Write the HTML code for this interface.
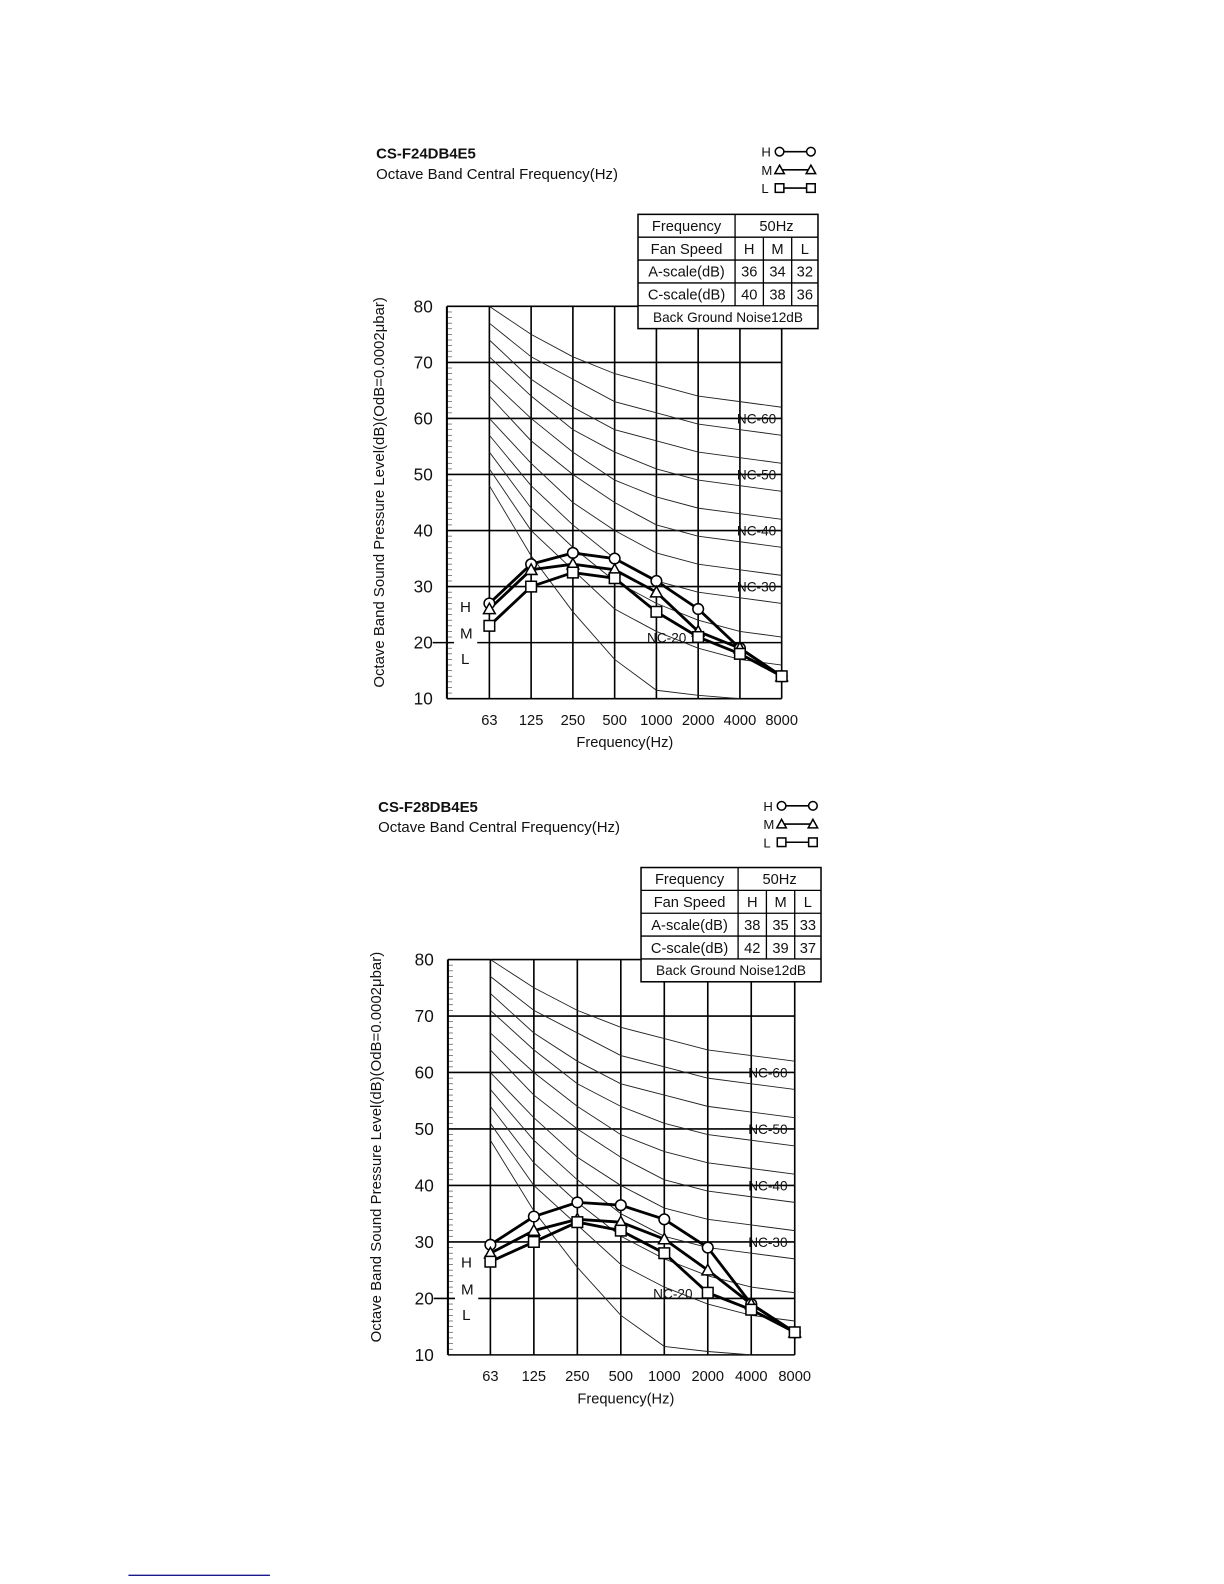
<!DOCTYPE html>
<html><head><meta charset="utf-8"><style>
html,body{margin:0;padding:0;background:#fff;overflow:hidden;width:1224px;height:1584px;}
svg{display:block;position:absolute;left:0;top:0;}
text{font-family:"Liberation Sans",Arial,sans-serif;fill:#111;}
</style></head><body>
<svg width="1224" height="1584" viewBox="0 0 1224 1584" xmlns="http://www.w3.org/2000/svg"><g id="s" transform="scale(1.0111)"></g></svg>
<script>
var S=document.getElementById('s');var h='';
var NC=[
[80,75,71,68,66,64,63,62],
[77,71,67,63,61,59,58,57],
[74,67,62,58,56,54,53,52],
[71,64,58,54,51,49,48,47],
[67,60,54,49,46,44,43,42],
[64,56,50,45,41,39,38,37],
[60,52,45,40,36,34,33,32],
[57,48,41,35,31,29,28,27],
[54,44,37,31,27,24,22,21],
[51,40,33,26,22,19,17,16]
];
var LOW=[48,35.5,25.5,17,11.5,10.6,10];
function chart(o){
 var X=function(i){return o.x0+i*o.dx;};
 var Y=function(v){return o.y80+(80-v)*(o.y10-o.y80)/70;};
 var L=o.left,R=X(7),T=o.y80,B=o.y10;
 h+='<text x="'+o.tx+'" y="'+o.ty+'" font-size="14.8" font-weight="bold">'+o.title+'</text>';
 h+='<text x="'+o.tx+'" y="'+(o.ty+20)+'" font-size="14.8">Octave Band Central Frequency(Hz)</text>';
 var lx=o.lgx,ly=o.lgy;
 var labs=['H','M','L'];
 for(var k=0;k<3;k++){var yy=ly+k*18;
  h+='<text x="'+lx+'" y="'+(yy+5)+'" font-size="13">'+labs[k]+'</text>';
  h+='<line x1="'+(lx+16)+'" y1="'+yy+'" x2="'+(lx+50)+'" y2="'+yy+'" stroke="#000" stroke-width="1.6"/>';
  h+=mark(k,lx+18,yy,0.85);h+=mark(k,lx+49,yy,0.85);}
 for(var v=10;v<=80;v++){h+='<line x1="'+L+'" x2="'+(L+5)+'" y1="'+Y(v)+'" y2="'+Y(v)+'" stroke="#555" stroke-width="0.7"/>';}
 for(var v=10;v<=80;v+=10){
  if(v==20){h+='<line x1="'+(L-14)+'" x2="'+(L+7)+'" y1="'+Y(v)+'" y2="'+Y(v)+'" stroke="#000" stroke-width="1.6"/>';
   h+='<line x1="'+(L+30)+'" x2="'+R+'" y1="'+Y(v)+'" y2="'+Y(v)+'" stroke="#000" stroke-width="1.6"/>';}
  else h+='<line x1="'+L+'" x2="'+R+'" y1="'+Y(v)+'" y2="'+Y(v)+'" stroke="#000" stroke-width="1.6"/>';
  h+='<text x="'+(L-14)+'" y="'+(Y(v)+6)+'" font-size="17" text-anchor="end">'+v+'</text>';}
 for(var i=0;i<8;i++){h+='<line x1="'+X(i)+'" x2="'+X(i)+'" y1="'+T+'" y2="'+B+'" stroke="#000" stroke-width="1.6"/>';}
 h+='<line x1="'+L+'" x2="'+L+'" y1="'+T+'" y2="'+B+'" stroke="#000" stroke-width="2"/>';
 var curves=NC.concat([LOW]);
 curves.forEach(function(c){var p=[];for(var i=0;i<c.length;i++)p.push(X(i)+','+Y(c[i]));
  h+='<polyline points="'+p.join(' ')+'" fill="none" stroke="#222" stroke-width="0.9"/>';});
 var nl=[[60,'NC-60'],[50,'NC-50'],[40,'NC-40'],[30,'NC-30']];
 nl.forEach(function(a){h+='<text x="'+(X(6)-3)+'" y="'+(Y(a[0])+5)+'" font-size="13.5" fill="#222">'+a[1]+'</text>';});
 h+='<text x="'+(X(3)+32)+'" y="'+(Y(20)+0)+'" font-size="13.5" fill="#222">NC-20</text>';
 h+='<text x="'+(L+13)+'" y="'+(Y(25.5))+'" font-size="15">H</text>';
 h+='<text x="'+(L+13)+'" y="'+(Y(20.7))+'" font-size="15">M</text>';
 h+='<text x="'+(L+14)+'" y="'+(Y(16.2))+'" font-size="15">L</text>';
 for(var k=0;k<3;k++){var d=o.data[k];var p=[];for(var i=0;i<8;i++)p.push(X(i)+','+Y(d[i]));
  h+='<polyline points="'+p.join(' ')+'" fill="none" stroke="#000" stroke-width="2.8"/>';}
 for(var k=0;k<3;k++){var d=o.data[k];for(var i=0;i<8;i++)h+=mark(k,X(i),Y(d[i]),1.05);}
 var fl=['63','125','250','500','1000','2000','4000','8000'];
 for(var i=0;i<8;i++)h+='<text x="'+X(i)+'" y="'+(B+26)+'" font-size="14.5" text-anchor="middle">'+fl[i]+'</text>';
 h+='<text x="'+o.fx+'" y="'+(B+48)+'" font-size="14.5" text-anchor="middle">Frequency(Hz)</text>';
 var cy=(T+B)/2-10;
 h+='<text transform="translate('+o.ylx+','+cy+') rotate(-90)" font-size="14.8" text-anchor="middle">Octave Band Sound Pressure Level(dB)(OdB=0.0002&#956;bar)</text>';
 var tx=o.tbx,ty=o.tby,rh=22.6,c1=tx+96,c2=c1+28,c3=c2+28,tr=tx+178;
 h+='<rect x="'+tx+'" y="'+ty+'" width="178" height="'+(rh*5)+'" fill="#fff" stroke="#000" stroke-width="1.5"/>';
 for(var r=1;r<5;r++)h+='<line x1="'+tx+'" x2="'+tr+'" y1="'+(ty+r*rh)+'" y2="'+(ty+r*rh)+'" stroke="#000" stroke-width="1.3"/>';
 h+='<line x1="'+c1+'" x2="'+c1+'" y1="'+ty+'" y2="'+(ty+4*rh)+'" stroke="#000" stroke-width="1.3"/>';
 h+='<line x1="'+c2+'" x2="'+c2+'" y1="'+(ty+rh)+'" y2="'+(ty+4*rh)+'" stroke="#000" stroke-width="1.3"/>';
 h+='<line x1="'+c3+'" x2="'+c3+'" y1="'+(ty+rh)+'" y2="'+(ty+4*rh)+'" stroke="#000" stroke-width="1.3"/>';
 var rows=[['Frequency'],['Fan Speed','H','M','L'],['A-scale(dB)'].concat(o.a),['C-scale(dB)'].concat(o.c)];
 rows.forEach(function(rw,r){var by=ty+r*rh+16.5;
  h+='<text x="'+(tx+48)+'" y="'+by+'" font-size="14.5" text-anchor="middle">'+rw[0]+'</text>';
  if(r==0)h+='<text x="'+((c1+tr)/2)+'" y="'+by+'" font-size="14.5" text-anchor="middle">50Hz</text>';
  else{h+='<text x="'+((c1+c2)/2)+'" y="'+by+'" font-size="14.5" text-anchor="middle">'+rw[1]+'</text>';
   h+='<text x="'+((c2+c3)/2)+'" y="'+by+'" font-size="14.5" text-anchor="middle">'+rw[2]+'</text>';
   h+='<text x="'+((c3+tr)/2)+'" y="'+by+'" font-size="14.5" text-anchor="middle">'+rw[3]+'</text>';}});
 h+='<text x="'+(tx+89)+'" y="'+(ty+4*rh+16)+'" font-size="13.5" text-anchor="middle">Back Ground Noise12dB</text>';
}
function mark(k,x,y,s){
 var st='fill="#fff" stroke="#000" stroke-width="1.5"';
 if(k==0)return '<circle cx="'+x+'" cy="'+y+'" r="'+(5*s)+'" '+st+'/>';
 if(k==1){var a=5.5*s;return '<polygon points="'+x+','+(y-a)+' '+(x+a)+','+(y+a*0.8)+' '+(x-a)+','+(y+a*0.8)+'" '+st+'/>';}
 var a=5*s;return '<rect x="'+(x-a)+'" y="'+(y-a)+'" width="'+(2*a)+'" height="'+(2*a)+'" '+st+'/>';
}
chart({title:'CS-F24DB4E5',tx:372,ty:157,lgx:753,lgy:150,left:442,x0:484,dx:41.3,y80:303,y10:691,fx:618,ylx:380,
 tbx:631,tby:212,a:['36','34','32'],c:['40','38','36'],
 data:[[27,34,36,35,31,26,19,14],[26,33,34,33,29,22,19,14],[23,30,32.5,31.5,25.5,21,18,14]]});
chart({title:'CS-F28DB4E5',tx:374,ty:803,lgx:755,lgy:797,left:443,x0:485,dx:43,y80:949,y10:1340,fx:619,ylx:377,
 tbx:634,tby:858,a:['38','35','33'],c:['42','39','37'],
 data:[[29.5,34.5,37,36.5,34,29,19,14],[28,32,34,33.5,30.5,25,19,14],[26.5,30,33.5,32,28,21,18,14]]});
h+='<line x1="127" x2="267" y1="1558" y2="1558" stroke="#1a1a8c" stroke-width="1.3"/>';
S.innerHTML=h;
</script>
</body></html>
